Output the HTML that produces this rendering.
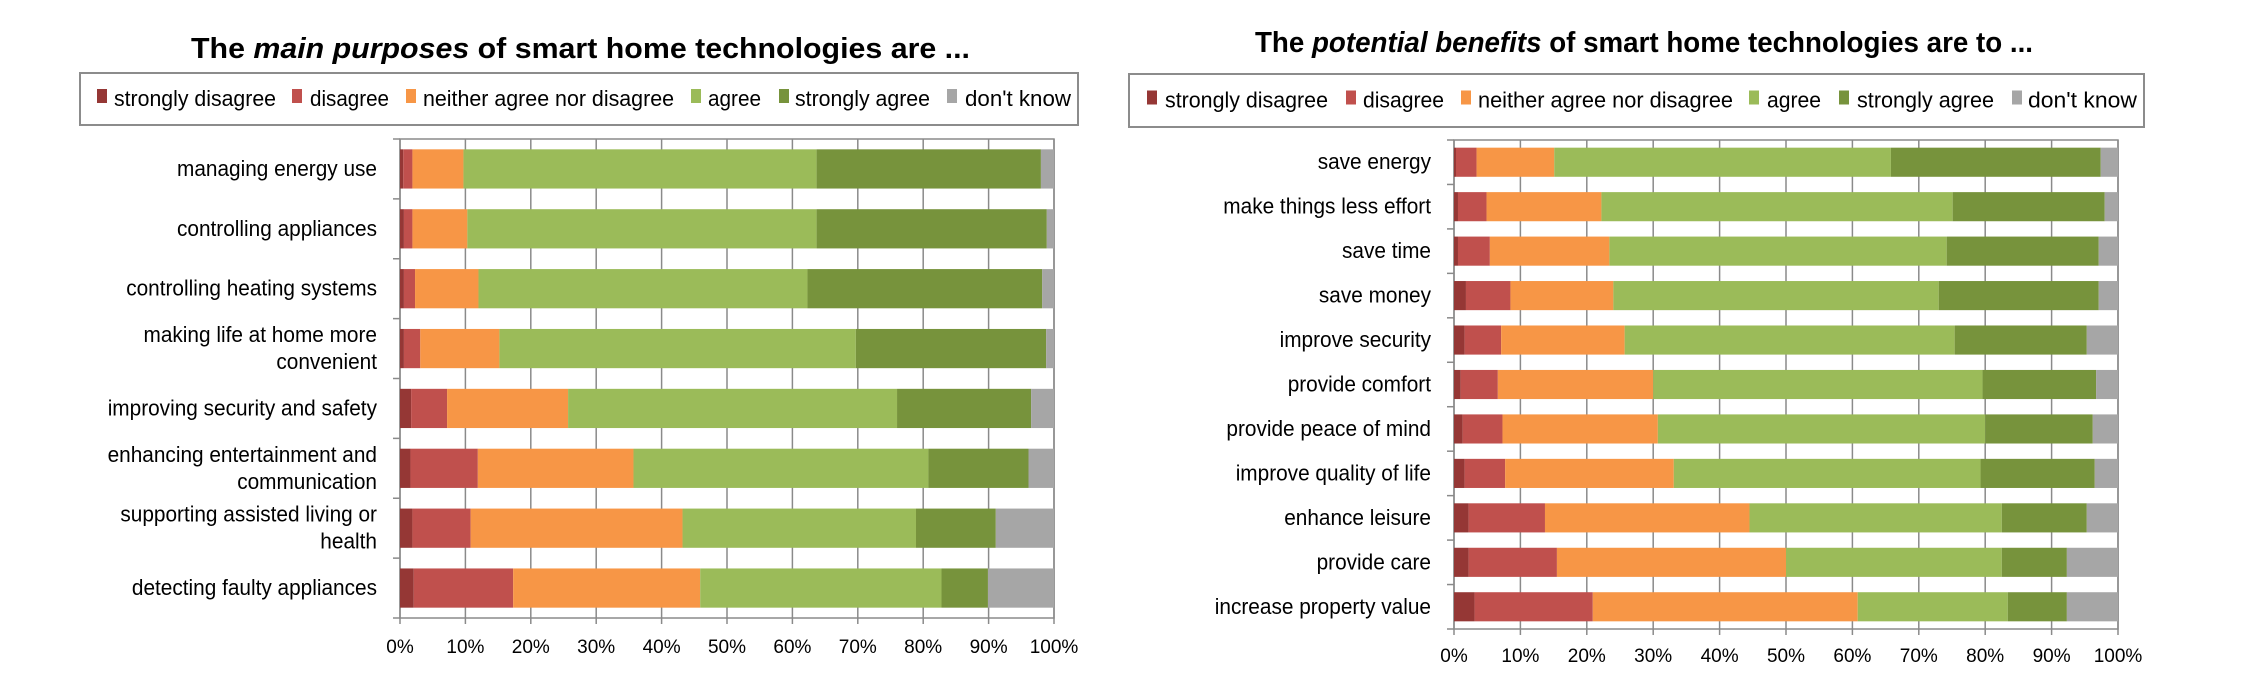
<!DOCTYPE html>
<html><head><meta charset="utf-8"><style>
html,body{margin:0;padding:0;background:#fff;}
svg{display:block;font-family:"Liberation Sans",sans-serif;}
</style></head><body>
<svg id="svg" width="2251" height="679" viewBox="0 0 2251 679"></svg>
<script>
const seriesNames = ["strongly disagree","disagree","neither agree nor disagree","agree","strongly agree","don't know"];
const seriesColors = ["#953735","#C0504D","#F79646","#9BBB59","#77933C","#A6A6A6"];
const tickLabels = ["0%","10%","20%","30%","40%","50%","60%","70%","80%","90%","100%"];

const leftCategories = [["managing energy use"],["controlling appliances"],["controlling heating systems"],["making life at home more","convenient"],["improving security and safety"],["enhancing entertainment and","communication"],["supporting assisted living or","health"],["detecting faulty appliances"]];
const leftStronglyDisagree = [0.5,0.6,0.6,0.6,1.7,1.6,1.9,2.1];
const leftDisagree = [1.4,1.3,1.7,2.5,5.5,10.3,8.9,15.2];
const leftNeither = [7.8,8.4,9.7,12.1,18.5,23.8,32.4,28.6];
const leftAgree = [54.0,53.4,50.3,54.5,50.3,45.1,35.7,36.9];
const leftStronglyAgree = [34.3,35.2,35.9,29.1,20.5,15.3,12.2,7.1];
const leftDontKnow = [2.0,1.1,1.8,1.2,3.5,3.9,8.9,10.1];

const rightCategories = [["save energy"],["make things less effort"],["save time"],["save money"],["improve security"],["provide comfort"],["provide peace of mind"],["improve quality of life"],["enhance leisure"],["provide care"],["increase property value"]];
const rightStronglyDisagree = [0.3,0.6,0.6,1.8,1.6,1.0,1.3,1.6,2.2,2.2,3.1];
const rightDisagree = [3.1,4.3,4.8,6.7,5.5,5.6,6.0,6.1,11.5,13.3,17.8];
const rightNeither = [11.7,17.3,18.0,15.5,18.6,23.4,23.4,25.4,30.8,34.5,39.9];
const rightAgree = [50.7,52.9,50.8,49.0,49.7,49.6,49.3,46.2,38.0,32.5,22.6];
const rightStronglyAgree = [31.6,22.9,22.9,24.1,19.9,17.1,16.2,17.2,12.8,9.8,8.9];
const rightDontKnow = [2.6,2.0,2.9,2.9,4.7,3.3,3.8,3.5,4.7,7.7,7.7];

const NS="http://www.w3.org/2000/svg";
const svg=document.getElementById('svg');
function mk(tag,attrs,parent){const e=document.createElementNS(NS,tag);for(const k in attrs)e.setAttribute(k,attrs[k]);(parent||svg).appendChild(e);return e;}

const probe=mk('text',{x:0,y:-100,'font-size':22});probe.textContent="managing energy use";
const labelScale=200/probe.getComputedTextLength();probe.remove();

function chart(cfg){
  const g=mk('g',{});
  
  
  const t=mk('text',{x:cfg.titleX,y:cfg.titleY,'font-size':29,'font-weight':'bold',fill:'#000',textLength:cfg.titleW,lengthAdjust:'spacingAndGlyphs'},g);
  
  
  const a=mk('tspan',{},t);a.textContent="The ";
  const b=mk('tspan',{'font-style':'italic'},t);b.textContent=cfg.titleItalic;
  const c=mk('tspan',{},t);c.textContent=cfg.titleRest;
  const lg=mk('g',{},g);
  
  
  mk('rect',{x:cfg.legX,y:cfg.legY,width:cfg.legW,height:cfg.legH,fill:'#fff',stroke:'#8c8c8c','stroke-width':2},lg);
  for(let i=0;i<seriesNames.length;i++){
    const eg=mk('g',{},lg);
    
    
    mk('rect',{x:cfg.legMarkX[i],y:cfg.legY+cfg.legH/2-10,width:10,height:14,fill:seriesColors[i]},eg);
    const lt=mk('text',{x:cfg.legTextX[i],y:cfg.legY+cfg.legH/2+7,'font-size':22,fill:'#000',textLength:cfg.legTextW[i],lengthAdjust:'spacingAndGlyphs'},eg);
    lt.textContent=seriesNames[i];
  }
  const x0=cfg.px0,x1=cfg.px1,y0=cfg.py0,y1=cfg.py1;
  const xs=v=>x0+(x1-x0)*v/100;
  const n=cfg.cats.length,band=(y1-y0)/n,bh=band*0.655;
  for(let i=0;i<tickLabels.length;i++){
    const gl=mk('line',{x1:xs(i*10),x2:xs(i*10),y1:y0,y2:y1,stroke:'#8a8a8a','stroke-width':1.5},g);
    
    
    const tl=mk('text',{x:xs(i*10),y:cfg.tickY,'font-size':19,'text-anchor':'middle',fill:'#000'},g);
    
    
    tl.textContent=tickLabels[i];
    mk('line',{x1:xs(i*10),x2:xs(i*10),y1:y1,y2:y1+6,stroke:'#8a8a8a','stroke-width':1.5},g);
  }
  mk('rect',{x:x0,y:y0,width:x1-x0,height:y1-y0,fill:'none',stroke:'#8a8a8a','stroke-width':1.5},g);
  for(let i=0;i<=n;i++)mk('line',{x1:x0-7,x2:x0,y1:y0+band*i,y2:y0+band*i,stroke:'#8a8a8a','stroke-width':1.5},g);
  const series=cfg.series;
  for(let r=0;r<n;r++){
    const cy=y0+band*(r+0.5);
    let acc=0;
    for(let s=0;s<series.length;s++){
      const v=series[s][r];
      const rc=mk('rect',{x:xs(acc),y:cy-bh/2,width:Math.max(0,xs(acc+v)-xs(acc)),height:bh,fill:seriesColors[s]},g);
      
      
      acc+=v;
    }
    const lines=cfg.cats[r];
    for(let k=0;k<lines.length;k++){
      const yy=cy+7+(k-(lines.length-1)/2)*27;
      const lt=mk('text',{x:cfg.labelX,y:yy,'font-size':22,'text-anchor':'end',fill:'#000'},g);
      
      
      lt.textContent=lines[k];
      const w=lt.getComputedTextLength();
      lt.setAttribute('textLength',(w*labelScale).toFixed(1));
      lt.setAttribute('lengthAdjust','spacingAndGlyphs');
    }
  }
}
chart({name:'main-purposes-chart',titleX:191,titleY:58,titleW:779,titleItalic:'main purposes',titleRest:' of smart home technologies are ...',
  legX:80,legY:73,legW:998,legH:52,legMarkX:[97,292,406,691,779,947],legTextX:[114,310,423,708,795,965],legTextW:[162,79,251,53,135,106],
  px0:400,px1:1054,py0:139,py1:618,tickY:653,labelX:377,cats:leftCategories,
  series:[leftStronglyDisagree,leftDisagree,leftNeither,leftAgree,leftStronglyAgree,leftDontKnow]});
chart({name:'potential-benefits-chart',titleX:1255,titleY:52,titleW:778,titleItalic:'potential benefits',titleRest:' of smart home technologies are to ...',
  legX:1129,legY:74,legW:1015,legH:53,legMarkX:[1147,1346,1461,1749,1839,2012],legTextX:[1165,1363,1478,1767,1857,2028],legTextW:[163,81,255,54,137,109],
  px0:1454,px1:2118,py0:140,py1:629,tickY:662,labelX:1431,cats:rightCategories,
  series:[rightStronglyDisagree,rightDisagree,rightNeither,rightAgree,rightStronglyAgree,rightDontKnow]});
</script>
</body></html>
